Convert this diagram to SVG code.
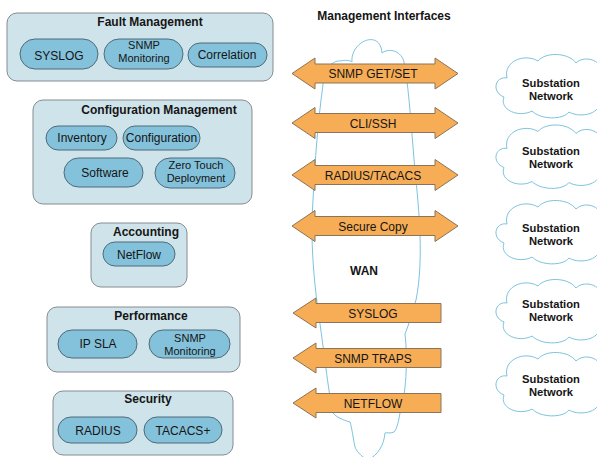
<svg xmlns="http://www.w3.org/2000/svg" xmlns:xlink="http://www.w3.org/1999/xlink" width="597" height="457" viewBox="0 0 597 457">
  <style>
    text { font-family: "Liberation Sans", Arial, sans-serif; fill: #151515; }
    .title { font-size: 12px; font-weight: bold; text-anchor: middle; }
    .net { font-size: 11.2px; font-weight: bold; text-anchor: middle; }
    .lbl { font-size: 12px; text-anchor: middle; }
    .lbl2 { font-size: 11px; text-anchor: middle; }
    .box { fill: #cfe3eb; stroke: #858c90; stroke-width: 1; }
    .pill { fill: #84c1da; stroke: #4f6b78; stroke-width: 1; }
    .arrow { fill: #f6ad55; stroke: #8a7458; stroke-width: 1; }
    .cloud { fill: none; stroke: #7cc3df; stroke-width: 1; }
  </style>
  <defs>
    <path id="subCloud" d="M -44,-8 C -56,-10 -60,6 -47,11 C -52,24 -32,32 -19,25 C -10,34 12,34 18,26 C 30,33 52,27 48,14 C 60,10 60,-8 50,-11 C 54,-25 34,-32 25,-23 C 17,-34 -6,-34 -13,-25 C -26,-33 -48,-25 -44,-8 Z"/>
    <path id="dblArrow" d="M 292,0 L 315,-15.5 L 315,-9.5 L 435,-9.5 L 435,-15.5 L 458,0 L 435,15.5 L 435,9.5 L 315,9.5 L 315,15.5 Z"/>
    <path id="leftArrow" d="M 293,0 L 316,-15 L 316,-9.5 L 441,-9.5 L 441,9.5 L 316,9.5 L 316,15 Z"/>
  </defs>

  <!-- WAN cloud behind the interface arrows -->
  <g id="wan">
    <path class="cloud" d="M 323,85 C 323,70 333,60 340,61 C 345,60 350,60 352,62 C 350,42 380,28 382,53 C 390,47 402,52 404,62 C 410,95 412,140 415,170 C 419,210 424,260 416,300 L 408,326 L 405,334 C 408,360 406,395 400,413 C 398,425 396,430 394,432 C 390,434 387,432 385,433 C 384,445 378,455 368,460 C 360,456 356,450 355,447 C 353,438 352,428 350,422 C 343,420 336,417 333,413 C 328,390 324,350 318,310 C 314,280 310,240 313,200 C 315,160 318,120 323,85 Z"/>
    <text class="title" x="364" y="275">WAN</text>
  </g>

  <text class="title" x="384" y="20">Management Interfaces</text>

  <!-- Fault Management -->
  <g id="fault">
    <rect class="box" x="7" y="13" width="266" height="68" rx="10"/>
    <text class="title" x="150" y="26">Fault Management</text>
    <rect class="pill" x="20" y="39" width="78" height="30" rx="15"/>
    <text class="lbl" x="59" y="60">SYSLOG</text>
    <rect class="pill" x="104" y="39" width="79" height="30" rx="15"/>
    <text class="lbl2" x="144" y="49">SNMP</text>
    <text class="lbl2" x="144" y="62">Monitoring</text>
    <rect class="pill" x="188" y="43" width="79" height="24" rx="12"/>
    <text class="lbl" x="227" y="59">Correlation</text>
  </g>

  <!-- Configuration Management -->
  <g id="config">
    <rect class="box" x="33" y="100" width="219" height="104" rx="10"/>
    <text class="title" x="159" y="114">Configuration Management</text>
    <rect class="pill" x="46" y="126" width="71" height="24" rx="12"/>
    <text class="lbl" x="82" y="142">Inventory</text>
    <rect class="pill" x="123" y="126" width="77" height="24" rx="12"/>
    <text class="lbl" x="161.5" y="142">Configuration</text>
    <rect class="pill" x="64" y="158" width="79" height="29" rx="14.5"/>
    <text class="lbl" x="105" y="177">Software</text>
    <rect class="pill" x="155" y="158" width="80" height="30" rx="15"/>
    <text class="lbl2" x="196" y="169">Zero Touch</text>
    <text class="lbl2" x="196" y="182">Deployment</text>
  </g>

  <!-- Accounting -->
  <g id="accounting">
    <rect class="box" x="91" y="223" width="96" height="64" rx="10"/>
    <text class="title" x="146" y="236">Accounting</text>
    <rect class="pill" x="103" y="242" width="72" height="24" rx="12"/>
    <text class="lbl" x="139" y="259">NetFlow</text>
  </g>

  <!-- Performance -->
  <g id="performance">
    <rect class="box" x="47" y="307" width="193" height="65" rx="10"/>
    <text class="title" x="151" y="320">Performance</text>
    <rect class="pill" x="58" y="330" width="79" height="28" rx="14"/>
    <text class="lbl" x="98" y="348">IP SLA</text>
    <rect class="pill" x="149" y="330" width="81" height="28" rx="14"/>
    <text class="lbl2" x="190" y="342">SNMP</text>
    <text class="lbl2" x="190" y="355">Monitoring</text>
  </g>

  <!-- Security -->
  <g id="security">
    <rect class="box" x="53" y="391" width="180" height="64" rx="10"/>
    <text class="title" x="148" y="403">Security</text>
    <rect class="pill" x="58" y="417" width="79" height="26" rx="13"/>
    <text class="lbl" x="98" y="435">RADIUS</text>
    <rect class="pill" x="144" y="417" width="78" height="26" rx="13"/>
    <text class="lbl" x="183" y="435">TACACS+</text>
  </g>

  <!-- Management interface arrows -->
  <g id="connectors">
    <g id="snmp-getset">
      <use xlink:href="#dblArrow" class="arrow" transform="translate(0,73.5)"/>
      <text class="lbl" x="373" y="78">SNMP GET/SET</text>
    </g>
    <g id="cli-ssh">
      <use xlink:href="#dblArrow" class="arrow" transform="translate(0,123)"/>
      <text class="lbl" x="373" y="127.5">CLI/SSH</text>
    </g>
    <g id="radius-tacacs">
      <use xlink:href="#dblArrow" class="arrow" transform="translate(0,175)"/>
      <text class="lbl" x="373" y="179.5">RADIUS/TACACS</text>
    </g>
    <g id="secure-copy">
      <use xlink:href="#dblArrow" class="arrow" transform="translate(0,226)"/>
      <text class="lbl" x="373" y="230.5">Secure Copy</text>
    </g>
    <g id="syslog">
      <use xlink:href="#leftArrow" class="arrow" transform="translate(0,313)"/>
      <text class="lbl" x="373" y="317.5">SYSLOG</text>
    </g>
    <g id="snmp-traps">
      <use xlink:href="#leftArrow" class="arrow" transform="translate(0,358)"/>
      <text class="lbl" x="373" y="362.5">SNMP TRAPS</text>
    </g>
    <g id="netflow">
      <use xlink:href="#leftArrow" class="arrow" transform="translate(0,403)"/>
      <text class="lbl" x="373" y="407.5">NETFLOW</text>
    </g>
  </g>

  <!-- Substation networks -->
  <g id="substation-1">
    <use xlink:href="#subCloud" class="cloud" transform="translate(551,86)"/>
    <text class="net" x="551" y="86.5">Substation</text>
    <text class="net" x="551" y="99.5">Network</text>
  </g>
  <g id="substation-2">
    <use xlink:href="#subCloud" class="cloud" transform="translate(551,156.5)"/>
    <text class="net" x="551" y="155">Substation</text>
    <text class="net" x="551" y="168">Network</text>
  </g>
  <g id="substation-3">
    <use xlink:href="#subCloud" class="cloud" transform="translate(551,232)"/>
    <text class="net" x="551" y="231.5">Substation</text>
    <text class="net" x="551" y="244.5">Network</text>
  </g>
  <g id="substation-4">
    <use xlink:href="#subCloud" class="cloud" transform="translate(551,311)"/>
    <text class="net" x="551" y="308">Substation</text>
    <text class="net" x="551" y="321">Network</text>
  </g>
  <g id="substation-5">
    <use xlink:href="#subCloud" class="cloud" transform="translate(551,384)"/>
    <text class="net" x="551" y="382.5">Substation</text>
    <text class="net" x="551" y="395.5">Network</text>
  </g>
</svg>
